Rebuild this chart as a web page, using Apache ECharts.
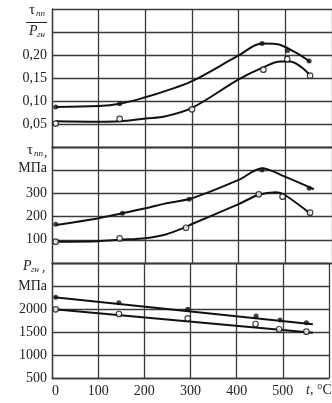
<!DOCTYPE html>
<html>
<head>
<meta charset="utf-8">
<script src="https://cdn.jsdelivr.net/npm/echarts@6/dist/echarts.min.js"></script>
<style>html,body{margin:0;padding:0;background:#fff;}#c{width:332px;height:403px;}</style>
</head>
<body>
<div id="c"></div>
<script>
// ---- data (temperature t, °C) ----
const xTicks = [0, 100, 200, 300, 400, 500];
// tau/P (top panel)
const ratioFilledT = [8, 145, 450, 505, 551];
const ratioFilledV = [0.087, 0.094, 0.225, 0.210, 0.187];
const ratioOpenT = [8, 145, 300, 453, 504, 553];
const ratioOpenV = [0.051, 0.061, 0.082, 0.168, 0.191, 0.155];
const ratioFilledCurveT = [8, 100, 145, 200, 244, 300, 400, 450, 480, 520, 552];
const ratioFilledCurveV = [0.087, 0.089, 0.094, 0.108, 0.122, 0.143, 0.199, 0.225, 0.224, 0.207, 0.186];
const ratioOpenCurveT = [8, 100, 145, 200, 244, 300, 400, 450, 490, 510, 553];
const ratioOpenCurveV = [0.056, 0.055, 0.056, 0.062, 0.067, 0.085, 0.147, 0.172, 0.186, 0.186, 0.156];
// tau, MPa (middle panel)
const tauFilledT = [8, 151, 294, 450, 551];
const tauFilledV = [167, 214, 275, 401, 322];
const tauOpenT = [8, 145, 287, 443, 494, 553];
const tauOpenV = [92, 106, 152, 296, 286, 217];
const tauFilledCurveT = [8, 100, 200, 244, 300, 400, 450, 499, 561];
const tauFilledCurveV = [164, 193, 236, 257, 279, 358, 408, 372, 318];
const tauOpenCurveT = [8, 100, 145, 200, 244, 287, 300, 400, 443, 480, 499, 553];
const tauOpenCurveV = [92, 94, 100, 107, 123, 155, 168, 254, 294, 305, 293, 214];
// P, MPa (bottom panel)
const pFilledT = [8, 145, 294, 442, 494, 551];
const pFilledV = [2254, 2137, 1993, 1848, 1761, 1702];
const pOpenT = [8, 145, 294, 441, 492, 551];
const pOpenV = [1993, 1891, 1797, 1674, 1560, 1507];
const pFilledLineT = [5, 565];
const pFilledLineV = [2257, 1667];
const pOpenLineT = [5, 565];
const pOpenLineV = [1993, 1485];
// tick labels
const ratioLabels = [0.05, 0.10, 0.15, 0.20];
const tauLabels = [100, 200, 300];
const pLabels = [500, 1000, 1500, 2000];

const zip = (a, b) => a.map((v, i) => [v, b[i]]);
const FONT = '"Liberation Serif", "DejaVu Serif", serif';
const GRID_COLOR = '#3a3a3a';

const grids = [
  {left: 52, width: 280, top: 9, height: 138},
  {left: 52, width: 280, top: 147, height: 116},
  {left: 52, width: 280, top: 263, height: 115}
];
const xAxes = grids.map((g, i) => ({
  type: 'value', gridIndex: i, min: 0, max: 600, interval: 100,
  axisLine: {show: true, lineStyle: {color: GRID_COLOR, width: 1.3}},
  axisTick: {show: false},
  splitLine: {show: true, lineStyle: {color: GRID_COLOR, width: 1.3}},
  axisLabel: {
    show: i === 2, margin: 6, color: '#222', fontFamily: FONT, fontSize: 14,
    alignMinLabel: 'left',
    formatter: v => (xTicks.indexOf(v) >= 0 ? String(v) : '')
  }
}));
function yAx(i, min, max, interval, labels, fmt) {
  return {
    type: 'value', gridIndex: i, min: min, max: max, interval: interval,
    axisLine: {show: true, lineStyle: {color: GRID_COLOR, width: 1.3}},
    axisTick: {show: false},
    splitLine: {show: true, lineStyle: {color: GRID_COLOR, width: 1.3}},
    axisLabel: {
      margin: 5, color: '#222', fontFamily: FONT, fontSize: 14,
      formatter: v => (labels.some(l => Math.abs(l - v) < 1e-6) ? fmt(v) : '')
    }
  };
}
const yAxes = [
  yAx(0, 0, 0.30, 0.05, ratioLabels, v => v.toFixed(2).replace('.', ',')),
  yAx(1, 0, 500, 100, tauLabels, v => String(v)),
  yAx(2, 500, 3000, 500, pLabels, v => String(v))
];
function curve(i, t, v, smooth) {
  return {type: 'line', xAxisIndex: i, yAxisIndex: i, data: zip(t, v), smooth: smooth,
    symbol: 'none', lineStyle: {color: '#111', width: 2}, z: 3, silent: true};
}
function pts(i, t, v, filled) {
  return {type: 'scatter', xAxisIndex: i, yAxisIndex: i, data: zip(t, v), symbol: 'circle',
    symbolSize: filled ? 5 : 5.5,
    itemStyle: {color: filled ? '#111' : '#fff', borderColor: '#111', borderWidth: filled ? 0 : 1.2},
    z: 4, silent: true};
}
const series = [
  curve(0, ratioFilledCurveT, ratioFilledCurveV, 0.35),
  curve(0, ratioOpenCurveT, ratioOpenCurveV, 0.35),
  pts(0, ratioFilledT, ratioFilledV, true),
  pts(0, ratioOpenT, ratioOpenV, false),
  curve(1, tauFilledCurveT, tauFilledCurveV, 0.3),
  curve(1, tauOpenCurveT, tauOpenCurveV, 0.3),
  pts(1, tauFilledT, tauFilledV, true),
  pts(1, tauOpenT, tauOpenV, false),
  curve(2, pFilledLineT, pFilledLineV, false),
  curve(2, pOpenLineT, pOpenLineV, false),
  pts(2, pFilledT, pFilledV, true),
  pts(2, pOpenT, pOpenV, false)
];
function txt(text, x, y, size, italic, align) {
  return {type: 'text', x: x, y: y, silent: true, z: 10,
    style: {text: text, fill: '#222', textAlign: align || 'left', textVerticalAlign: 'middle',
      font: (italic ? 'italic ' : '') + size + 'px ' + FONT}};
}
const graphics = [
  txt('τ', 29, 10, 15, false),
  txt('пп', 36, 14, 9, true),
  {type: 'line', silent: true, shape: {x1: 26, y1: 22.5, x2: 47, y2: 22.5}, style: {stroke: '#222', lineWidth: 1}},
  txt('P', 29, 31, 14, true),
  txt('гн', 37, 35, 9, true),
  txt('τ', 27, 150, 15, false),
  txt('пп', 34, 154, 9, true),
  txt(',', 44, 153, 13, false),
  txt('МПа', 47, 168, 14, false, 'right'),
  txt('P', 23, 266, 14, true),
  txt('гн', 31, 270, 9, true),
  txt(',', 42, 268, 13, false),
  txt('МПа', 47, 286, 14, false, 'right'),
  txt('t', 306, 390, 14, true),
  txt(', °C', 310, 390, 14, false)
];
const chart = echarts.init(document.getElementById('c'), null, {renderer: 'canvas'});
chart.setOption({
  animation: false,
  backgroundColor: '#fff',
  grid: grids,
  xAxis: xAxes,
  yAxis: yAxes,
  series: series,
  graphic: graphics
});
</script>
</body>
</html>
